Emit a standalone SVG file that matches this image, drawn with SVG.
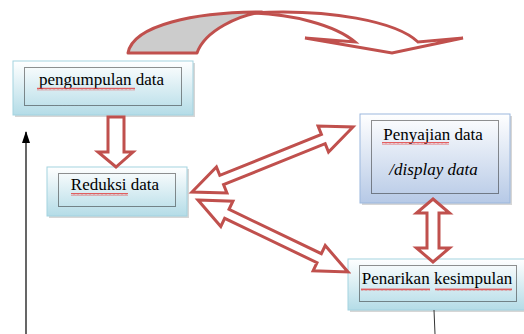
<svg xmlns="http://www.w3.org/2000/svg" width="524" height="334" viewBox="0 0 524 334">
<style>
text{font-family:"Liberation Serif","DejaVu Serif",serif;font-size:17px;fill:#000}
.ar{fill:#fff;stroke:#c0504d;stroke-width:3;stroke-linejoin:miter}
.in{fill:none;stroke:#222;stroke-width:1;stroke-dasharray:1 1}
.sh{fill:#8a8a8a;opacity:0.35}
.sq{fill:url(#sq)}
</style>
<defs>
<linearGradient id="gc" x1="0" y1="0" x2="0" y2="1">
<stop offset="0" stop-color="#ffffff"/>
<stop offset="1" stop-color="#b4dce7"/>
</linearGradient>
<linearGradient id="gb" x1="0" y1="0" x2="0" y2="1">
<stop offset="0" stop-color="#ffffff"/>
<stop offset="1" stop-color="#b6c9e6"/>
</linearGradient>
<pattern id="sq" width="4" height="3" patternUnits="userSpaceOnUse">
<path d="M0,2.5 L1,0.5 L2,2.5 L3,0.5 L4,2.5" fill="none" stroke="#e23b3b" stroke-width="0.8"/>
</pattern>
<marker id="ah" markerWidth="12" markerHeight="8" refX="11" refY="4" orient="auto" markerUnits="userSpaceOnUse" viewBox="0 0 12 8">
<path d="M0,0 L12,4 L0,8 Z" fill="#000"/>
</marker>
</defs>

<g id="curved-arrow">
<path d="M128,53 C133,25 195,12 262,12 C240,15 205,30 197,53 Z" fill="#cccccc" stroke="#c0504d" stroke-width="3" stroke-linejoin="round"/>
<path d="M250,13 C330,8 397,22 418,42 L463,38 L392,53 L305,38 L355,42 C335,25 292,14 250,13 Z" class="ar"/>
</g>

<g id="node-pengumpulan">
<rect x="15" y="63" width="180" height="54" class="sh"/>
<rect x="13" y="61" width="180" height="54" fill="url(#gc)" stroke="#a3d3e0" stroke-width="1"/>
<rect x="24.5" y="67.5" width="157" height="38" class="in"/>
<text x="101.5" y="85" text-anchor="middle">pengumpulan data</text>
<rect x="37" y="87.5" width="98" height="3" class="sq"/>
</g>

<g id="node-reduksi">
<rect x="49" y="169" width="140" height="49" class="sh"/>
<rect x="47" y="167" width="140" height="49" fill="url(#gc)" stroke="#a3d3e0" stroke-width="1"/>
<rect x="58.5" y="173.5" width="117" height="33" class="in"/>
<text x="115" y="190" text-anchor="middle">Reduksi data</text>
<rect x="71" y="193" width="57" height="3" class="sq"/>
</g>

<g id="node-penyajian">
<rect x="362" y="116" width="150" height="89" class="sh"/>
<rect x="360" y="114" width="150" height="89" fill="url(#gb)" stroke="#9bb7dd" stroke-width="1"/>
<rect x="371.5" y="120.5" width="127" height="73" class="in"/>
<text x="433" y="140" text-anchor="middle">Penyajian data</text>
<rect x="382" y="142" width="67" height="3" class="sq"/>
<text x="433.5" y="175" text-anchor="middle" font-style="italic">/display data</text>
</g>

<g id="node-penarikan">
<rect x="350" y="261" width="180" height="51" class="sh"/>
<rect x="348" y="259" width="180" height="51" fill="url(#gc)" stroke="#a3d3e0" stroke-width="1"/>
<rect x="359.5" y="265.5" width="157" height="36" class="in"/>
<text x="437" y="284" text-anchor="middle">Penarikan kesimpulan</text>
<rect x="361" y="288" width="69" height="3" class="sq"/>
<rect x="435" y="288" width="77" height="3" class="sq"/>
</g>

<g id="connectors">
<polygon class="ar" points="108,117 124,117 124,152 133,152 116,167 98,152 108,152"/>
<polygon class="ar" transform="translate(192,192) rotate(-21.98)" points="0,0 32,-14 32,-5 141.6,-5 141.6,-14 173.6,0 141.6,14 141.6,5 32,5 32,14"/>
<polygon class="ar" transform="translate(198,200) rotate(25.64)" points="0,0 32,-14 32,-5 134.4,-5 134.4,-14 166.4,0 134.4,14 134.4,5 32,5 32,14"/>
<polygon class="ar" points="433,199 449.5,213 439,213 439,248 449.5,248 433,262 416.5,248 427,248 427,213 416.5,213"/>
<line x1="26" y1="334" x2="26" y2="132" stroke="#000" stroke-width="1.2" marker-end="url(#ah)"/>
<line x1="434" y1="310" x2="435" y2="334" stroke="#333" stroke-width="1"/>
</g>
</svg>
